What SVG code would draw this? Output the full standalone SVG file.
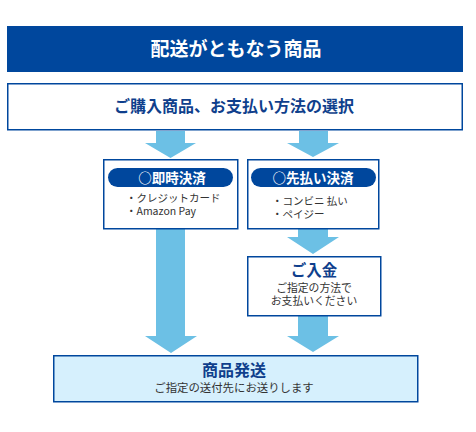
<svg xmlns="http://www.w3.org/2000/svg" width="476" height="432" viewBox="0 0 476 432">
<style>
.box{fill:#fff;stroke:#00479d;stroke-width:1.5}
.arr{fill:#6cc0e5}
text{font-family:"Noto Sans CJK JP","Noto Sans",sans-serif}
.b{font-weight:bold;fill:#0f3f8c}
.s{fill:#333}
.w{fill:#fff;font-weight:bold}
</style>
<rect width="476" height="432" fill="#fff"/>
<g id="connectors">
<polygon class="arr" points="156,131 185,131 185,143 196,143 170.5,158 145,143 156,143"/>
<polygon class="arr" points="299,131 328,131 328,143 339,143 313,157 287,143 299,143"/>
<polygon class="arr" points="156,229 185,229 185,336 197,336 171,353 145,336 156,336"/>
<polygon class="arr" points="298,229 328,229 328,237 339,237 313,254 287,237 298,237"/>
<polygon class="arr" points="298,316 328,316 328,336 339,336 313,352 287,336 298,336"/>
</g>
<g id="title">
<rect x="7" y="26" width="456" height="46" fill="#00479d"/>
<text x="236" y="56" text-anchor="middle" class="w" font-size="19">配送がともなう商品</text>
</g>
<g id="select">
<rect class="box" x="7.75" y="83.75" width="454.5" height="46"/>
<text x="234" y="112" text-anchor="middle" class="b" font-size="16">ご購入商品、お支払い方法の選択</text>
</g>
<g id="instant">
<rect class="box" x="103.75" y="159.75" width="134" height="69"/>
<rect x="108" y="168" width="125" height="19" rx="9.5" fill="#00479d"/>
<text x="172" y="182.5" text-anchor="middle" class="w" font-size="13.5">○即時決済</text>
<text x="126" y="202" class="s" font-size="10.5">・クレジットカード</text>
<text x="126" y="215" class="s" font-size="10.5">・Amazon Pay</text>
</g>
<g id="prepay">
<rect class="box" x="247.75" y="159.75" width="131" height="69"/>
<rect x="251" y="168" width="125" height="19" rx="9.5" fill="#00479d"/>
<text x="313" y="182.5" text-anchor="middle" class="w" font-size="13.5">○先払い決済</text>
<text x="272" y="205" class="s" font-size="10.5">・コンビニ 払い</text>
<text x="272" y="218" class="s" font-size="10.5">・ペイジー</text>
</g>
<g id="payment">
<rect class="box" x="247.75" y="256.75" width="133" height="59"/>
<text x="314" y="276" text-anchor="middle" class="b" font-size="15.5">ご入金</text>
<text x="314" y="292" text-anchor="middle" class="s" font-size="10.8">ご指定の方法で</text>
<text x="314" y="305" text-anchor="middle" class="s" font-size="10.8">お支払いください</text>
</g>
<g id="ship">
<rect x="53.75" y="355.75" width="364" height="46" fill="#d6f0fd" stroke="#00479d" stroke-width="1.5"/>
<text x="234" y="376" text-anchor="middle" class="b" font-size="16">商品発送</text>
<text x="234" y="392" text-anchor="middle" class="s" font-size="11.4">ご指定の送付先にお送りします</text>
</g>
</svg>
